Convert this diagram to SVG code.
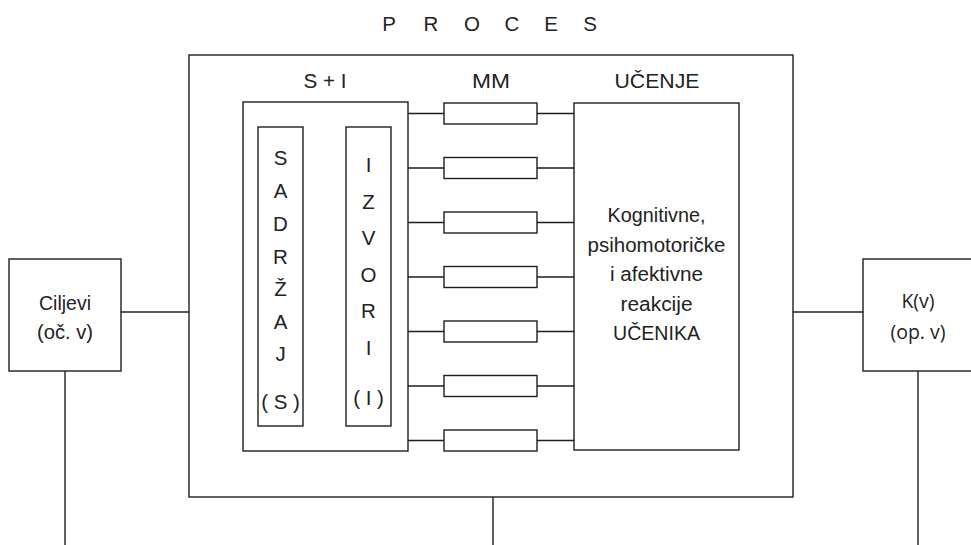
<svg xmlns="http://www.w3.org/2000/svg" width="971" height="545" viewBox="0 0 971 545">
<style>
.b{fill:#fff;stroke:#1e1e1e;stroke-width:1.4}
.l{fill:none;stroke:#1e1e1e;stroke-width:1.4}
.t{font-family:"Liberation Sans",Arial,sans-serif;font-size:20.5px;fill:#222;text-anchor:middle}
.o{font-family:"Open Sans","Noto Sans",sans-serif;font-size:19.5px;fill:#222;text-anchor:middle}
</style>
<rect width="971" height="545" fill="#fff"/>
<g id="proces"><rect class="b" x="189" y="55" width="604" height="442"/></g>
<g id="title">
<text class="t" y="31"><tspan x="389">P</tspan><tspan x="431">R</tspan><tspan x="472">O</tspan><tspan x="512">C</tspan><tspan x="551">E</tspan><tspan x="590">S</tspan></text>
</g>
<g id="connectors">
<line class="l" x1="121" y1="312" x2="189" y2="312"/>
<line class="l" x1="65" y1="371" x2="65" y2="545"/>
<line class="l" x1="793" y1="312" x2="863" y2="312"/>
<line class="l" x1="918" y1="371" x2="918" y2="545"/>
<line class="l" x1="493" y1="497" x2="493" y2="545"/>
<line class="l" x1="303" y1="276" x2="346" y2="276"/>
<path class="l" d="M408 113.5H444M537 113.5H574M408 168H444M537 168H574M408 222.5H444M537 222.5H574M408 277H444M537 277H574M408 331.5H444M537 331.5H574M408 386H444M537 386H574M408 440.5H444M537 440.5H574"/>
</g>
<g id="si">
<rect class="b" x="243" y="102" width="165" height="349"/>
<text class="t" x="325" y="88" textLength="43" lengthAdjust="spacingAndGlyphs">S + I</text>
</g>
<g id="mm">
<text class="t" x="491" y="88" textLength="38" lengthAdjust="spacingAndGlyphs">MM</text>
<rect class="b" x="444" y="103" width="93" height="21"/>
<rect class="b" x="444" y="157.5" width="93" height="21"/>
<rect class="b" x="444" y="212" width="93" height="21"/>
<rect class="b" x="444" y="266.5" width="93" height="21"/>
<rect class="b" x="444" y="321" width="93" height="21"/>
<rect class="b" x="444" y="375.5" width="93" height="21"/>
<rect class="b" x="444" y="430" width="93" height="21"/>
</g>
<g id="sadrzaj">
<rect class="b" x="258" y="127" width="45" height="299"/>
<text class="t"><tspan x="280.5" y="165">S</tspan><tspan x="280.5" y="198">A</tspan><tspan x="280.5" y="231">D</tspan><tspan x="280.5" y="264">R</tspan><tspan x="280.5" y="296">Ž</tspan><tspan x="280.5" y="329">A</tspan><tspan x="280.5" y="361">J</tspan><tspan x="280.5" y="409">( S )</tspan></text>
</g>
<g id="izvori">
<rect class="b" x="346" y="127" width="45" height="299"/>
<text class="t"><tspan x="368.5" y="172">I</tspan><tspan x="368.5" y="209">Z</tspan><tspan x="368.5" y="245">V</tspan><tspan x="368.5" y="282">O</tspan><tspan x="368.5" y="318">R</tspan><tspan x="368.5" y="355">I</tspan><tspan x="368.5" y="405">( I )</tspan></text>
</g>
<g id="ucenje">
<text class="t" x="657" y="88" textLength="85" lengthAdjust="spacingAndGlyphs">UČENJE</text>
<rect class="b" x="574" y="103" width="165" height="347"/>
<text class="t" x="656.5" y="222" textLength="98" lengthAdjust="spacingAndGlyphs">Kognitivne,</text>
<text class="t" x="656.5" y="251.5" textLength="138" lengthAdjust="spacingAndGlyphs">psihomotoričke</text>
<text class="t" x="656.5" y="281" textLength="93" lengthAdjust="spacingAndGlyphs">i afektivne</text>
<text class="t" x="656.5" y="310.5" textLength="72" lengthAdjust="spacingAndGlyphs">reakcije</text>
<text class="t" x="656.5" y="340" textLength="87" lengthAdjust="spacingAndGlyphs">UČENIKA</text>
</g>
<g id="ciljevi">
<rect class="b" x="9" y="259" width="112" height="112"/>
<text class="t" x="65" y="310" textLength="52" lengthAdjust="spacingAndGlyphs">Ciljevi</text>
<text class="t" x="65" y="339" textLength="56" lengthAdjust="spacingAndGlyphs">(oč. v)</text>
</g>
<g id="kv">
<rect class="b" x="863" y="259" width="112" height="112"/>
<text class="o"><tspan x="918" y="308">K(v)</tspan><tspan x="918" y="339">(op. v)</tspan></text>
</g>
</svg>
